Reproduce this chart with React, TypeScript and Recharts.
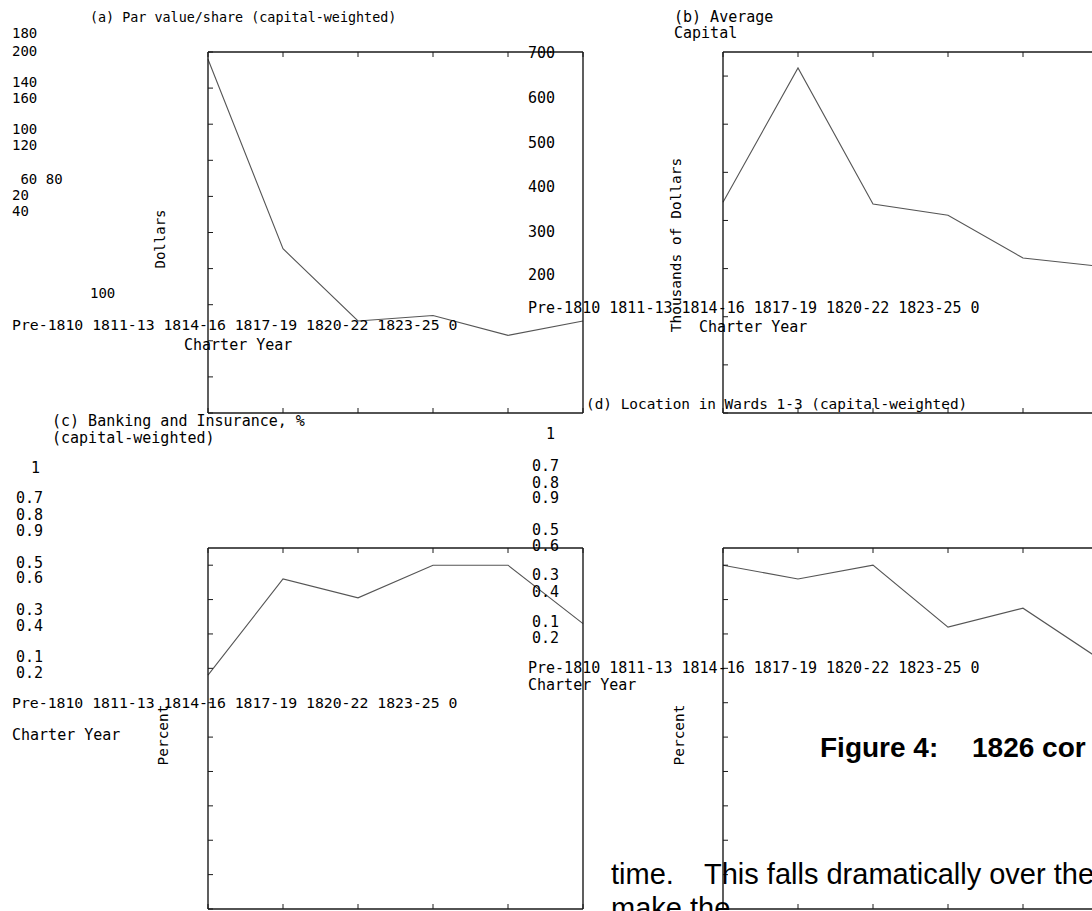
import { Line, LineChart, XAxis, YAxis } from "recharts";

// values
const charterYears = ["Pre-1810", "1811-13", "1814-16", "1817-19", "1820-22", "1823-25"];
const parValue = [196, 91, 51, 54, 43, 51];
const avgCapital = [438, 717, 434, 411, 322, 305];
const bankingShare = [0.68, 0.96, 0.905, 1.0, 1.0, 0.83];
const wardsShare = [1.0, 0.96, 1.0, 0.82, 0.875, 0.73];

const parTicks = [0, 20, 40, 60, 80, 100, 120, 140, 160, 180, 200];
const capitalTicks = [0, 100, 200, 300, 400, 500, 600, 700];
const shareTicks = [0, 0.1, 0.2, 0.3, 0.4, 0.5, 0.6, 0.7, 0.8, 0.9, 1];

// tick labels as they were laid out (out of order) in the source
const parTickText = ["180", "200", "140", "160", "100", "120", " 60 80", "20", "40", "100"];
const capitalTickText = ["700", "600", "500", "400", "300", "200"];
const shareTickText = ["1", "0.7", "0.8", "0.9", "0.5", "0.6", "0.3", "0.4", "0.1", "0.2"];
const categoryRow = [...charterYears, "0"].join(" ");

const MONO = '"DejaVu Sans Mono", monospace';
const SANS = '"Liberation Sans", Arial, sans-serif';
const AXIS = "#1a1a1a";
const SERIES = "#555";
const BOX_W = 375;
const BOX_H = 361;
const PAD = 3;

// tick marks only, the labels live in the overlay below
const NoLabel = () => <g />;

function Panel({ left, top, values, domain, ticks }: {
  left: number; top: number; values: number[]; domain: [number, number]; ticks: number[];
}) {
  const data = charterYears.map((year, i) => ({ year, v: values[i] }));
  const axisLine = { stroke: AXIS, strokeWidth: 1.4 };
  const tickLine = { stroke: AXIS, strokeWidth: 1 };
  const common = { mirror: true, tick: NoLabel, tickSize: 5, axisLine, tickLine };
  return (
    <div style={{ position: "absolute", left: left - PAD, top: top - PAD }}>
      <LineChart width={BOX_W + 2 * PAD} height={BOX_H + 2 * PAD} data={data}
        margin={{ top: PAD, right: PAD, bottom: PAD, left: PAD }}>
        <XAxis xAxisId="b" dataKey="year" orientation="bottom" scale="point" height={1} interval={0} {...common} />
        <XAxis xAxisId="t" dataKey="year" orientation="top" scale="point" height={1} interval={0} {...common} />
        <YAxis yAxisId="l" orientation="left" type="number" domain={domain} ticks={ticks} width={1} interval={0} {...common} />
        <YAxis yAxisId="r" orientation="right" type="number" domain={domain} ticks={ticks} width={1} interval={0} {...common} />
        <Line xAxisId="b" yAxisId="l" dataKey="v" type="linear" stroke={SERIES} strokeWidth={1.1}
          dot={false} activeDot={false} isAnimationActive={false} />
      </LineChart>
    </div>
  );
}

type T = { x: number; y: number; s: string; size?: number; rot?: boolean };

const parY = [33, 51, 82, 98, 129, 145, 179, 195, 211, 293];
const parX = [12, 12, 12, 12, 12, 12, 12, 12, 12, 90];
const capY = [53, 98, 143, 187, 232, 275];
const shareCY = [468, 498, 515, 531, 563, 578, 610, 626, 657, 673];
const shareDY = [434, 466, 483, 498, 530, 546, 575, 592, 622, 638];

const texts: T[] = [
  { x: 90, y: 17, s: "(a) Par value/share (capital-weighted)", size: 13.4 },
  ...parTickText.map((s, i) => ({ x: parX[i], y: parY[i], s, size: 14 })),
  { x: 12, y: 325, s: categoryRow, size: 14.8 },
  { x: 184, y: 345, s: "Charter Year" },
  { x: 160, y: 239, s: "Dollars", size: 14, rot: true },

  { x: 674, y: 17, s: "(b) Average" },
  { x: 674, y: 33, s: "Capital" },
  ...capitalTickText.map((s, i) => ({ x: 528, y: capY[i], s })),
  { x: 528, y: 308, s: categoryRow },
  { x: 699, y: 327, s: "Charter Year" },
  { x: 676, y: 245, s: "Thousands of Dollars", size: 14.5, rot: true },

  { x: 52, y: 421, s: "(c) Banking and Insurance, %" },
  { x: 52, y: 438, s: "(capital-weighted)" },
  ...shareTickText.map((s, i) => ({ x: i === 0 ? 31 : 16, y: shareCY[i], s })),
  { x: 12, y: 703, s: categoryRow, size: 14.8 },
  { x: 12, y: 735, s: "Charter Year" },
  { x: 163, y: 735, s: "Percent", size: 14.5, rot: true },

  { x: 586, y: 404, s: "(d) Location in Wards 1-3 (capital-weighted)", size: 14.4 },
  ...shareTickText.map((s, i) => ({ x: i === 0 ? 546 : 532, y: shareDY[i], s })),
  { x: 528, y: 668, s: categoryRow },
  { x: 528, y: 685, s: "Charter Year" },
  { x: 679, y: 735, s: "Percent", size: 14.5, rot: true },
];

export default function App() {
  return (
    <div style={{ position: "absolute", left: 0, top: 0, width: 1092, height: 911, overflow: "hidden", background: "#fff" }}>
      <Panel left={208} top={52} values={parValue} domain={[0, 200]} ticks={parTicks} />
      <Panel left={723} top={52} values={avgCapital} domain={[0, 750]} ticks={capitalTicks} />
      <Panel left={208} top={548} values={bankingShare} domain={[0, 1.05]} ticks={shareTicks} />
      <Panel left={723} top={548} values={wardsShare} domain={[0, 1.05]} ticks={shareTicks} />
      <svg width={1092} height={911} style={{ position: "absolute", left: 0, top: 0 }}>
        {texts.map((t, i) => {
          const size = t.size ?? 15;
          if (t.rot) {
            return (
              <text key={i} x={t.x} y={t.y} fontFamily={MONO} fontSize={size} fill="#000"
                textAnchor="middle" dominantBaseline="central" transform={`rotate(-90 ${t.x} ${t.y})`}>
                {t.s}
              </text>
            );
          }
          return (
            <text key={i} x={t.x} y={t.y + size * 0.36} fontFamily={MONO} fontSize={size} fill="#000"
              style={{ whiteSpace: "pre" }}>
              {t.s}
            </text>
          );
        })}
        <text x={820} y={757} fontFamily={SANS} fontWeight={700} fontSize={28} fill="#000">Figure 4:</text>
        <text x={972} y={757} fontFamily={SANS} fontWeight={700} fontSize={28} fill="#000">1826 cor</text>
        <text x={611} y={884} fontFamily={SANS} fontSize={29} fill="#000">time.</text>
        <text x={704} y={884} fontFamily={SANS} fontSize={29} fill="#000">This falls dramatically over the</text>
        <text x={611} y={918} fontFamily={SANS} fontSize={29} fill="#000">make the</text>
      </svg>
    </div>
  );
}
